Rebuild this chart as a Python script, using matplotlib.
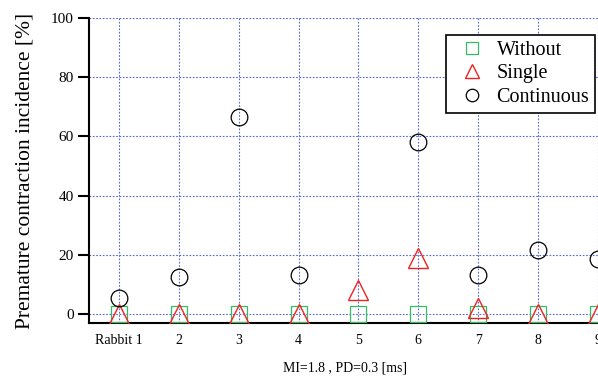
import numpy as np
import matplotlib
matplotlib.use("Agg")
import matplotlib.pyplot as plt

plt.rcParams['font.family'] = ['Liberation Serif', 'DejaVu Serif']

# data
rabbits = [1, 2, 3, 4, 5, 6, 7, 8, 9]
tick_labels = ["Rabbit 1", "2", "3", "4", "5", "6", "7", "8", "9"]
without = [0, 0, 0, 0, 0, 0, 0, 0, 0]
single = [0, 0, 0, 0, 8.0, 18.8, 2.0, 0, 0]
continuous = [5.6, 12.5, 66.7, 13.3, np.nan, 58.3, 13.3, 21.6, 18.5]

fig = plt.figure(figsize=(5.98, 3.76), dpi=100)
ax = fig.add_axes([0.1488, 0.141, 0.901, 0.811])

ax.plot(rabbits, without, 's', ms=11, mfc='none', mec='#33bb66', mew=0.9, label='Without', zorder=3)
ax.plot(rabbits, single, '^', ms=14, mfc='none', mec='#ee2222', mew=1.0, label='Single', zorder=4)
ax.plot(rabbits, continuous, 'o', ms=12, mfc='none', mec='black', mew=0.9, label='Continuous', zorder=5)

ax.set_xlim(0.5, 9.5)
ax.set_ylim(-3, 100)
ax.set_xticks(rabbits)
ax.set_xticklabels(tick_labels)
ax.set_yticks([0, 20, 40, 60, 80, 100])
ax.grid(True, color='#5566cc', linestyle=(0, (1.5, 1.5)), linewidth=0.8)
ax.set_axisbelow(True)

for s in ['top', 'right']:
    ax.spines[s].set_visible(False)
ax.spines['left'].set_linewidth(1.5)
ax.spines['bottom'].set_linewidth(1.5)
ax.tick_params(axis='y', direction='out', length=8, width=1.5, labelsize=11, pad=3)
ax.tick_params(axis='x', direction='in', length=0, labelsize=10, pad=8)

ax.set_ylabel("Premature contraction incidence [%]", fontsize=15.5, labelpad=12)
fig.text(345 / 598, 1 - 368 / 376, "MI=1.8 , PD=0.3 [ms]", ha='center', va='center', fontsize=10)

leg = ax.legend(loc='upper left', bbox_to_anchor=(0.663, 0.946), fontsize=14.5, frameon=True,
                fancybox=False, edgecolor='black', framealpha=1, borderpad=0.3,
                labelspacing=0.22, handlelength=2.0, handletextpad=0.2, markerscale=0.75,
                borderaxespad=0)
leg.get_frame().set_linewidth(1.2)

fig.savefig("out.png", dpi=100)
